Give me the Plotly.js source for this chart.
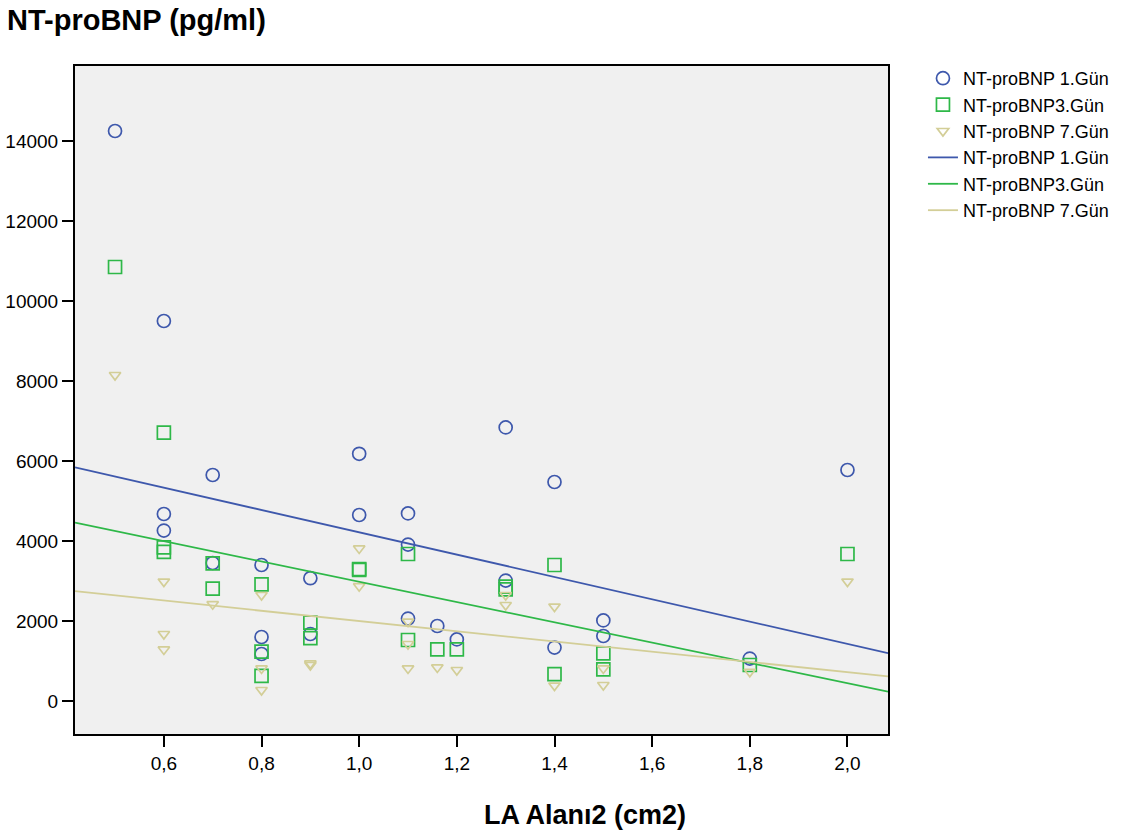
<!DOCTYPE html>
<html>
<head>
<meta charset="utf-8">
<script src="https://cdn.plot.ly/plotly-3.0.1.min.js"></script>
<style>
  html, body { margin: 0; padding: 0; background: #ffffff; }
  #chart { width: 1148px; height: 840px; }
</style>
</head>
<body>
<div id="chart"></div>
<script>
// ---- Data ----
const day1X = [0.5, 0.6, 0.6, 0.6, 0.7, 0.7, 0.8, 0.8, 0.8, 0.9, 0.9, 1.0, 1.0, 1.1, 1.1, 1.1, 1.16, 1.2, 1.3, 1.3, 1.4, 1.4, 1.5, 1.5, 1.8, 2.0];
const day1Y = [14250, 9500, 4675, 4260, 5650, 3450, 3400, 1600, 1175, 3070, 1675, 6180, 4650, 4690, 3910, 2060, 1875, 1540, 6840, 3010, 5475, 1335, 2015, 1625, 1060, 5775];

const day3X = [0.5, 0.6, 0.6, 0.6, 0.7, 0.7, 0.8, 0.8, 0.8, 0.9, 0.9, 1.0, 1.0, 1.1, 1.1, 1.16, 1.2, 1.3, 1.3, 1.4, 1.4, 1.5, 1.5, 1.8, 2.0];
const day3Y = [10850, 6710, 3840, 3730, 3440, 2810, 2915, 1235, 630, 1960, 1570, 3300, 3280, 3675, 1525, 1290, 1290, 2860, 2790, 3400, 670, 1190, 790, 900, 3675];

const day7X = [0.5, 0.6, 0.6, 0.6, 0.7, 0.8, 0.8, 0.8, 0.9, 0.9, 1.0, 1.0, 1.1, 1.1, 1.1, 1.16, 1.2, 1.3, 1.3, 1.4, 1.4, 1.5, 1.5, 1.8, 2.0];
const day7Y = [8150, 2985, 1675, 1290, 2420, 2650, 815, 275, 940, 900, 3815, 2870, 1985, 1425, 815, 840, 775, 2650, 2400, 2360, 385, 815, 400, 730, 2985];

const seriesNames = ["NT-proBNP 1.Gün", "NT-proBNP3.Gün", "NT-proBNP 7.Gün"];
const xTitle = "LA Alanı2 (cm2)";
const yTitle = "NT-proBNP (pg/ml)";

// ---- Styling ----
const colors = ["#3E58AC", "#2EB848", "#D3CE97"];
const xRange = [0.418, 2.083];
const yRange = [-825, 15875];
const FONT = "Liberation Sans, Arial, sans-serif";

// Ordinary least squares fit (the reference draws linear fit lines)
function fit(xs, ys) {
  const n = xs.length;
  const mx = xs.reduce((a, b) => a + b, 0) / n;
  const my = ys.reduce((a, b) => a + b, 0) / n;
  let sxy = 0, sxx = 0;
  for (let i = 0; i < n; i++) { sxy += (xs[i] - mx) * (ys[i] - my); sxx += (xs[i] - mx) ** 2; }
  const b = sxy / sxx;
  const a = my - b * mx;
  return { x: xRange.slice(), y: xRange.map(v => a + b * v) };
}

const markerDefs = [
  { symbol: "circle-open", size: 13 },
  { symbol: "square-open", size: 13 },
  { symbol: "triangle-down-open", size: 10 }
];
const sets = [[day1X, day1Y], [day3X, day3Y], [day7X, day7Y]];

const traces = [];
sets.forEach((s, i) => {
  traces.push({
    type: "scatter", mode: "markers", x: s[0], y: s[1], name: seriesNames[i],
    marker: { symbol: markerDefs[i].symbol, size: markerDefs[i].size, color: colors[i], line: { width: 1.7, color: colors[i] } },
    cliponaxis: false
  });
});
sets.forEach((s, i) => {
  const f = fit(s[0], s[1]);
  traces.push({
    type: "scatter", mode: "lines", x: f.x, y: f.y, name: seriesNames[i],
    line: { color: colors[i], width: 1.8 }
  });
});

const axisCommon = {
  showgrid: false, zeroline: false, showline: true, linecolor: "#000", linewidth: 2, mirror: true,
  ticks: "outside", ticklen: 11, tickwidth: 2, tickcolor: "#000",
  tickfont: { family: FONT, size: 19, color: "#000" }
};

const layout = {
  width: 1148, height: 840,
  margin: { l: 75, r: 260, t: 66, b: 106 },
  paper_bgcolor: "#ffffff", plot_bgcolor: "#F0F0F0",
  separators: ",.",
  font: { family: FONT, color: "#000" },
  xaxis: Object.assign({}, axisCommon, { range: xRange, tick0: 0, dtick: 0.2, tickformat: ".1f" }),
  yaxis: Object.assign({}, axisCommon, { range: yRange, tick0: 0, dtick: 2000, tickformat: "d" }),
  showlegend: true,
  legend: {
    x: 1.043, xanchor: "left", y: 1.009, yanchor: "top",
    font: { family: FONT, size: 18, color: "#000" },
    bgcolor: "rgba(0,0,0,0)", tracegroupgap: 0, itemwidth: 30
  },
  annotations: [
    { text: "<b>" + yTitle + "</b>", xref: "paper", yref: "paper", x: -0.086, y: 1.069, xanchor: "left", yanchor: "middle", showarrow: false, font: { family: FONT, size: 29, color: "#000" } },
    { text: "<b>" + xTitle + "</b>", xref: "paper", yref: "paper", x: 0.627, y: -0.121, xanchor: "center", yanchor: "middle", showarrow: false, font: { family: FONT, size: 27, color: "#000" } }
  ]
};

Plotly.newPlot("chart", traces, layout, { displayModeBar: false, staticPlot: true });
</script>
</body>
</html>
